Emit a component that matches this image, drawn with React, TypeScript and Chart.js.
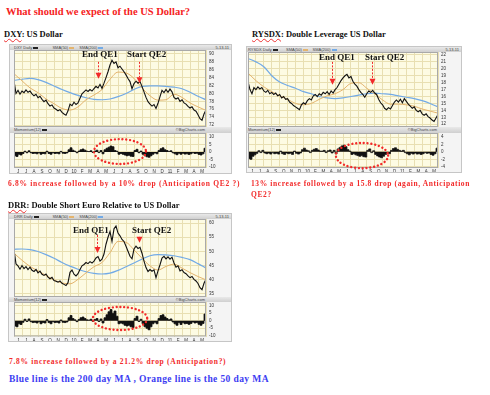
import React, { useEffect, useRef } from "react";
import { Chart, registerables } from "chart.js";
Chart.register(...registerables);

// ---------- shared ----------
const MONTH_LABELS = ["J","J","A","S","O","N","D","10","F","M","A","M","J","J","A","S","O","N","D","11","F","M","A","M"];
const WEEKS_PER_MONTH = 4;

// ---------- DXY ----------
const DXY_PRICE = [83.2,80.0,80.8,79.8,80.6,80.2,80.9,80.3,80.6,79.9, 79.4,79.8,78.9,79.3,78.5,77.9,78.3,77.4,76.8,77.1, 76.3,76.0,75.6,75.9,75.2,74.8,74.5,75.6,77.3,76.9, 77.8,77.2,77.6,78.8,79.9,80.4,80.9,80.5,81.0,80.6, 81.2,81.8,81.4,82.3,81.3,82.6,84.0,85.5,87.2,88.4, 87.6,88.0,86.5,86.9,86.2,85.5,84.7,83.8,83.0,81.2, 82.5,83.1,82.6,83.0,81.8,80.4,79.0,77.9,77.3,76.8, 77.2,76.2,77.5,79.2,80.8,80.2,81.0,80.3,81.1,80.4, 79.0,78.6,78.9,78.0,78.4,77.6,77.3,76.7,76.3,76.6, 75.8,75.5,74.6,73.6,73.2,74.8,75.8];
const DXY_SMA50 = [85.0,83.2,81.4,80.2,78.6,77.4,76.2,75.8,76.6,78.4,79.6,81.0,83.6,85.4,85.2,83.8,81.4,79.4,78.3,78.4,79.8,79.0,77.6,76.6,75.7];
const DXY_SMA200 = [83.3,83.6,83.8,83.5,82.8,81.9,81.0,80.2,79.5,78.9,78.5,78.4,78.6,79.2,80.0,81.0,81.8,81.9,81.9,81.8,81.6,81.2,80.3,79.3,78.4];
const DXY_MOMENTUM = [-2.5,-3,-1.5,-2,-1, 0.5,-0.5,0.8,-0.5,-1, -0.8,-1.2,-0.5,-1.5,-1, -1.2,0.5,-1,-1.5,-0.5, -1,-0.8,-1.2,0.4,-0.8, -1,-0.6,1.5,2.8,1.2, 0.5,-0.5,0.6,1.5,2, 1.2,0.5,0.3,0.8,-0.3, 0.6,1.2,-0.4,1,-1.2, 1.5,2.5,3.2,4,3.5, 1,0.5,-1.5,-1,-1.5, -2,-2.5,-2.2,-2.8,-3, 1,1.8,-0.5,0.6,-1.5, -2.5,-3.2,-3.5,-2.5,-1.5, -0.6,-1.2,1,2.2,2.8, 1.5,1,0.4,0.8,-0.5, -1.2,-1.8,-0.8,-1.5,-0.8, -1.4,-1.2,-1.6,-1.2,-0.5, -1,-0.8,-1.6,-2,-1.2, 2.5];
const DXY_PRICE_TICKS = [72,74,76,78,80,82,84,86,88,90];
const DXY_MOM_TICKS = [10,5,0,-5,-10];
const DXY_ARROWS = [[10.5, 88.0, 83.7], [15.6, 88.0, 82.6]];
const DXY_ELLIPSE = [13.25, 0.3, 3.25, 8.3];

// ---------- RYSDX ----------
const RYSDX_PRICE = [18.2,17.0,16.4,17.3,17.0,17.4,17.1,17.3,16.8,16.6, 16.9,16.4,16.6,16.3,16.5,16.1,16.3,15.8,16.0,15.6, 15.7,15.2,15.0,14.7,14.5,14.3,14.1,14.8,15.1,14.9, 15.4,15.7,15.5,16.1,16.3,16.0,16.4,16.2,16.6,16.4, 16.7,16.3,16.8,16.5,17.0,17.3,17.8,18.3,18.7,19.0, 19.2,18.7,18.9,18.2,17.8,17.5,17.0,16.6,16.3,15.9, 16.4,16.8,16.6,16.9,16.5,16.3,15.6,15.1,14.8,14.3, 14.1,14.4,14.2,14.7,15.2,15.5,15.2,15.6,15.1,15.7, 15.3,14.9,14.6,14.3,14.5,14.0,13.8,14.0,13.5,13.3, 13.5,13.1,12.9,12.6,12.4,12.9,13.4];
const RYSDX_SMA50 = [19.4,18.3,17.4,16.7,16.1,15.6,15.0,14.8,15.0,15.6,16.1,16.4,17.0,17.9,18.0,17.2,16.4,15.5,14.9,14.9,14.8,14.6,14.2,13.9,13.6];
const RYSDX_SMA200 = [21.5,21.0,20.3,19.0,18.1,17.6,17.2,16.7,16.4,16.0,15.8,15.7,15.8,16.0,16.2,16.4,16.5,16.4,16.3,16.1,15.9,15.7,15.4,15.0,14.5];
const RYSDX_MOMENTUM = [-1.8,-2,-1.2,-0.8,-0.4, 0.3,-0.2,0.4,-0.3,-0.5, -0.3,-0.6,-0.2,-0.5,-0.4, -0.6,0.2,-0.5,-0.7,-0.3, -0.5,-0.4,-0.7,0.2,-0.4, -0.6,-0.3,0.6,1.0,0.5, 0.3,-0.2,0.4,0.7,0.9, 0.5,0.2,0.2,0.4,-0.2, 0.3,0.5,-0.3,0.4,-0.5, 0.8,1.2,1.6,1.8,1.4, 0.6,0.2,-0.7,-0.5,-0.8, -1.0,-1.2,-1.0,-1.3,-1.4, 0.4,0.8,-0.2,0.3,-0.7, -1.1,-1.4,-1.6,-1.2,-0.7, -0.3,-0.5,0.4,0.9,1.1, 0.7,0.4,0.2,0.4,-0.2, -0.5,-0.8,-0.4,-0.6,-0.3, -0.6,-0.5,-0.7,-0.5,-0.2, -0.4,-0.3,-0.7,-0.9,-0.5, 1.0];
const RYSDX_PRICE_TICKS = [12,13,14,15,16,17,18,19,20,21,22];
const RYSDX_MOM_TICKS = [4,2,0,-2,-4];
const RYSDX_ARROWS = [[10.6, 21.0, 17.7], [15.65, 21.0, 17.7]];
const RYSDX_ELLIPSE = [14.4, -1.0, 3.3, 3.4];

// ---------- DRR ----------
const DRR_PRICE = [50.5,45.5,44.8,43.6,44.9,43.8,44.5,43.5,44.3,43.2, 42.8,43.5,42.3,42.9,41.8,41.4,41.9,40.8,40.2,40.7, 39.6,39.3,39.0,39.4,38.6,38.2,37.8,38.8,42.5,43.3, 41.8,41.2,42.0,43.5,44.8,45.3,46.0,45.6,46.3,45.8, 46.5,47.6,48.1,46.5,47.2,49.0,52.5,55.0,57.0,53.5, 58.0,59.0,56.5,55.5,54.2,53.5,51.8,50.0,48.2,47.3, 50.8,51.8,51.0,51.4,49.3,46.5,44.2,42.8,43.5,42.9, 43.4,40.6,43.0,45.2,47.6,48.2,47.3,48.0,47.2,47.9, 45.8,44.3,44.8,43.0,43.4,42.4,42.0,41.2,40.6,41.0, 40.0,39.4,38.5,37.0,36.3,38.6,40.0];
const DRR_SMA50 = [49.3,46.8,44.6,43.0,41.4,39.8,38.7,38.4,40.0,42.3,44.5,46.0,49.5,53.5,53.2,50.5,47.5,44.8,43.3,44.6,45.4,44.0,42.4,41.0,39.8];
const DRR_SMA200 = [50.7,50.8,50.6,49.9,48.8,47.5,46.0,44.7,43.6,42.7,42.1,41.9,42.2,43.2,44.5,45.8,47.2,48.4,48.8,48.7,48.4,47.8,47.0,45.6,44.0];
const DRR_MOMENTUM = [-3.5,-4,-2,-2.5,-1, 1,-0.5,1.2,-0.6,-1.2, -1,-1.5,-0.6,-2,-1.2, -1.5,0.8,-1.2,-2,-0.6, -1.2,-1,-1.5,0.5,-1, -1.2,-0.8,2,3.5,1.5, 0.6,-0.6,0.8,2,2.5, 1.5,0.6,0.4,1,-0.4, 0.8,1.5,-0.5,1.2,-1.5, 2,4,6,7.5,5, 6.5,3,-2,-1.5,-2, -3,-3.5,-3,-4,-4.5, 1.5,3,-0.5,1,-2, -4,-5,-6,-4,-2, -1,-2,1.5,3.5,4, 2.5,1.5,0.6,1.2,-0.8, -2,-3,-1.2,-2.5,-1.2, -2,-1.8,-2.4,-1.8,-0.8, -1.5,-1.2,-2.4,-3,-1.8, 4.5];
const DRR_PRICE_TICKS = [35,40,45,50,55,60];
const DRR_MOM_TICKS = [10,5,0,-5,-10];
const DRR_ARROWS = [[10.4, 55.8, 49.4], [15.6, 53.8, 53.0]];
const DRR_ELLIPSE = [13.25, 1.5, 3.4, 7.7];

// ---------- styles ----------
const PLOT_BG = "#fdfbe3";
const GRID = "#e8dfb2";
const PRICE_COLOR = "#111111";
const SMA50_COLOR = "#e4b46e";
const SMA200_COLOR = "#72aae6";
const RED = "#f22a2a";
const SERIF = "'Liberation Serif', 'Times New Roman', serif";
const SANS = "'Liberation Sans', Arial, sans-serif";

type PanelProps = {
  name: string;
  box: { left: number; top: number; width: number; height: number };
  plotL: number; plotR: number;
  priceTop: number; priceBottom: number;
  momTop: number; momBottom: number;
  priceMin: number; priceMax: number;
  momMin: number; momMax: number;
  price: number[]; sma50: number[]; sma200: number[]; momentum: number[];
  priceTicks: number[]; momTicks: number[];
  arrows: number[][]; ellipse: number[];
};

const monthTicks = () => [...MONTH_LABELS.map((_, i) => i), MONTH_LABELS.length];

const framePlugin = {
  id: "frame",
  beforeDraw(chart: any) {
    const { ctx, chartArea: a } = chart;
    ctx.save();
    ctx.fillStyle = PLOT_BG;
    ctx.fillRect(a.left, a.top, a.width, a.height);
    ctx.restore();
  },
  afterDatasetsDraw(chart: any) {
    const { ctx, chartArea: a } = chart;
    ctx.save();
    ctx.strokeStyle = "#a9a9a9";
    ctx.lineWidth = 1;
    ctx.strokeRect(a.left + 0.5, a.top + 0.5, a.width - 1, a.height - 1);
    ctx.restore();
  },
};

function Panel(p: PanelProps) {
  const priceRef = useRef<HTMLCanvasElement>(null);
  const momRef = useRef<HTMLCanvasElement>(null);
  const boxRight = p.box.left + p.box.width;
  const canvasL = p.box.left + 1;
  const canvasW = p.box.width - 2;
  const priceH = p.priceBottom - p.priceTop;
  const momCanvasH = p.box.top + p.box.height - 1 - p.momTop;
  const momPlotH = p.momBottom - p.momTop;

  useEffect(() => {
    const axisW = boxRight - 1 - p.plotR;
    const padL = p.plotL - canvasL;
    const xBase = {
      type: "linear" as const,
      min: 0,
      max: MONTH_LABELS.length,
      grid: { color: GRID, lineWidth: 1, drawTicks: false },
      border: { display: false },
      afterBuildTicks: (s: any) => { s.ticks = monthTicks().map((v) => ({ value: v })); },
    };
    const yBase = (min: number, max: number, ticks: number[]) => ({
      type: "linear" as const,
      position: "right" as const,
      min, max,
      grid: { color: GRID, lineWidth: 1, drawTicks: false },
      border: { display: false },
      ticks: { font: { size: 4.5, family: SANS }, color: "#333", padding: 3, autoSkip: false },
      afterBuildTicks: (s: any) => { s.ticks = ticks.map((v) => ({ value: v })); },
      afterFit: (s: any) => { s.width = axisW; s.paddingTop = 0; s.paddingBottom = 0; },
    });

    const arrowPlugin = {
      id: "arrows",
      afterDraw(chart: any) {
        const { ctx, scales } = chart;
        ctx.save();
        for (const [m, topV, tipV] of p.arrows) {
          const px = Math.round(scales.x.getPixelForValue(m)) + 0.5;
          const y0 = scales.y.getPixelForValue(topV);
          const y1 = scales.y.getPixelForValue(tipV);
          const head = 6;
          ctx.strokeStyle = RED;
          ctx.lineWidth = 1;
          ctx.setLineDash([2, 1.5]);
          ctx.beginPath();
          ctx.moveTo(px, y0);
          ctx.lineTo(px, y1 - head);
          ctx.stroke();
          ctx.setLineDash([]);
          ctx.fillStyle = RED;
          ctx.beginPath();
          ctx.moveTo(px - 3, y1 - head);
          ctx.lineTo(px + 3, y1 - head);
          ctx.lineTo(px, y1);
          ctx.closePath();
          ctx.fill();
        }
        ctx.restore();
      },
    };

    const ellipsePlugin = {
      id: "ellipse",
      afterDraw(chart: any) {
        const { ctx, scales } = chart;
        const [cx, cy, rx, ry] = p.ellipse;
        const px = scales.x.getPixelForValue(cx);
        const py = scales.y.getPixelForValue(cy);
        const prx = scales.x.getPixelForValue(cx + rx) - px;
        const pry = py - scales.y.getPixelForValue(cy + ry);
        ctx.save();
        ctx.strokeStyle = RED;
        ctx.lineWidth = 2.4;
        ctx.lineCap = "round";
        ctx.setLineDash([0.01, 3.8]);
        ctx.beginPath();
        ctx.ellipse(px, py, prx, pry, 0, 0, Math.PI * 2);
        ctx.stroke();
        ctx.restore();
      },
    };

    const priceChart = new Chart(priceRef.current!, {
      type: "line",
      data: {
        datasets: [
          { data: p.price.map((v, i) => ({ x: i / WEEKS_PER_MONTH, y: v })), borderColor: PRICE_COLOR, borderWidth: 1.1, pointRadius: 0, tension: 0 },
          { data: p.sma50.map((v, i) => ({ x: i, y: v })), borderColor: SMA50_COLOR, borderWidth: 1, pointRadius: 0, cubicInterpolationMode: "monotone" },
          { data: p.sma200.map((v, i) => ({ x: i, y: v })), borderColor: SMA200_COLOR, borderWidth: 1.2, pointRadius: 0, cubicInterpolationMode: "monotone" },
        ],
      },
      options: {
        responsive: false,
        animation: false,
        devicePixelRatio: 1,
        events: [],
        layout: { padding: { left: padL, right: 0, top: 0, bottom: 0 } },
        plugins: { legend: { display: false }, tooltip: { enabled: false } },
        scales: {
          x: { ...xBase, ticks: { display: false }, afterFit: (s: any) => { s.height = 0; s.paddingLeft = 0; s.paddingRight = 0; } },
          y: yBase(p.priceMin, p.priceMax, p.priceTicks),
        },
      } as any,
      plugins: [framePlugin, arrowPlugin],
    });

    const momChart = new Chart(momRef.current!, {
      type: "line",
      data: {
        datasets: [
          {
            data: p.momentum.map((v, i) => ({ x: (i + 0.5) / WEEKS_PER_MONTH, y: v })),
            borderColor: "#111", backgroundColor: "#111", borderWidth: 0.8,
            pointRadius: 0, fill: "origin", stepped: "middle",
          },
        ],
      },
      options: {
        responsive: false,
        animation: false,
        devicePixelRatio: 1,
        events: [],
        layout: { padding: { left: padL, right: 0, top: 0, bottom: 0 } },
        plugins: { legend: { display: false }, tooltip: { enabled: false } },
        scales: {
          x: {
            ...xBase,
            ticks: {
              font: { size: 4.5, family: SANS }, color: "#333", padding: 1.5,
              autoSkip: false, maxRotation: 0, minRotation: 0, labelOffset: 4,
              callback: (_v: any, i: number) => MONTH_LABELS[i] ?? "",
            },
            afterFit: (s: any) => { s.height = momCanvasH - momPlotH; s.paddingLeft = 0; s.paddingRight = 0; },
          },
          y: yBase(p.momMin, p.momMax, p.momTicks),
        },
      } as any,
      plugins: [framePlugin, ellipsePlugin],
    });

    return () => { priceChart.destroy(); momChart.destroy(); };
  }, []);

  const strip = (top: number, height: number) => ({
    position: "absolute" as const, left: canvasL, top, width: canvasW, height,
    background: "linear-gradient(#e9e9e9, #cfcfcf)",
  });
  const tiny = { position: "absolute" as const, fontFamily: SANS, fontSize: 4, lineHeight: "5px", color: "#444", whiteSpace: "nowrap" as const };
  const dash = (c: string) => <span style={{ display: "inline-block", width: 5, height: 1.5, background: c, verticalAlign: "middle", marginLeft: 1 }} />;

  return (
    <>
      <div style={{ position: "absolute", left: p.box.left, top: p.box.top, width: p.box.width, height: p.box.height, background: "#f4f4f4", border: "1px solid #c6c6c6", boxSizing: "border-box" }} />
      <div style={strip(p.box.top + 1, p.priceTop - p.box.top - 1)}>
        <span style={{ ...tiny, left: p.plotL - canvasL, top: 0 }}>{p.name} Daily{dash("#222")}</span>
        <span style={{ ...tiny, left: (p.plotR - p.plotL) * 0.2 + p.plotL - canvasL, top: 0 }}>SMA(50){dash(SMA50_COLOR)}</span>
        <span style={{ ...tiny, left: (p.plotR - p.plotL) * 0.34 + p.plotL - canvasL, top: 0 }}>SMA(200){dash(SMA200_COLOR)}</span>
        <span style={{ ...tiny, right: 2, top: 0 }}>5-13-11</span>
      </div>
      <canvas ref={priceRef} width={canvasW} height={priceH} style={{ position: "absolute", left: canvasL, top: p.priceTop, width: canvasW, height: priceH }} />
      <div style={strip(p.priceBottom, p.momTop - p.priceBottom)}>
        <span style={{ ...tiny, left: p.plotL - canvasL, top: 0 }}>Momentum(12){dash("#222")}</span>
        <span style={{ ...tiny, right: boxRight - p.plotR, top: 0 }}>©BigCharts.com</span>
      </div>
      <canvas ref={momRef} width={canvasW} height={momCanvasH} style={{ position: "absolute", left: canvasL, top: p.momTop, width: canvasW, height: momCanvasH }} />
    </>
  );
}

const txt = (left: number, top: number, size: number, color: string, extra: any = {}) => ({
  position: "absolute" as const, left, top, fontFamily: SERIF, fontWeight: 700, fontSize: size,
  lineHeight: 1, color, whiteSpace: "nowrap" as const, ...extra,
});
const squiggle = { textDecoration: "underline wavy #e33", textDecorationThickness: "0.5px", textUnderlineOffset: "1px" };

export default function App() {
  return (
    <div style={{ position: "absolute", left: 0, top: 0, width: 490, height: 395, background: "#fff", overflow: "hidden" }}>
      <div style={txt(6, 7.3, 10.5, "#f52222")}>What should we expect of the US Dollar?</div>
      <div style={txt(4, 30, 8.5, "#111")}><span style={squiggle}>DXY</span>: US Dollar</div>
      <div style={txt(252, 29.5, 8.5, "#111")}><span style={squiggle}>RYSDX</span>: Double Leverage US Dollar</div>

      <Panel name="DXY" box={{ left: 9, top: 44, width: 223, height: 130 }} plotL={14} plotR={206}
        priceTop={50} priceBottom={127} momTop={133} momBottom={168}
        priceMin={71.5} priceMax={91} momMin={-10.7} momMax={12.7}
        price={DXY_PRICE} sma50={DXY_SMA50} sma200={DXY_SMA200} momentum={DXY_MOMENTUM}
        priceTicks={DXY_PRICE_TICKS} momTicks={DXY_MOM_TICKS} arrows={DXY_ARROWS} ellipse={DXY_ELLIPSE} />
      <Panel name="RYSDX" box={{ left: 246, top: 46, width: 216, height: 127 }} plotL={248} plotR={438}
        priceTop={52} priceBottom={127} momTop={133} momBottom={168}
        priceMin={11.6} priceMax={22.43} momMin={-4.35} momMax={5.08}
        price={RYSDX_PRICE} sma50={RYSDX_SMA50} sma200={RYSDX_SMA200} momentum={RYSDX_MOMENTUM}
        priceTicks={RYSDX_PRICE_TICKS} momTicks={RYSDX_MOM_TICKS} arrows={RYSDX_ARROWS} ellipse={RYSDX_ELLIPSE} />
      <Panel name="DRR" box={{ left: 8, top: 213, width: 224, height: 129 }} plotL={14} plotR={206}
        priceTop={219} priceBottom={297} momTop={302} momBottom={336.5}
        priceMin={33.7} priceMax={61.5} momMin={-10.5} momMax={12.5}
        price={DRR_PRICE} sma50={DRR_SMA50} sma200={DRR_SMA200} momentum={DRR_MOMENTUM}
        priceTicks={DRR_PRICE_TICKS} momTicks={DRR_MOM_TICKS} arrows={DRR_ARROWS} ellipse={DRR_ELLIPSE} />

      <div style={txt(82, 50.3, 9, "#111")}>End QE1</div>
      <div style={txt(127, 50.3, 9, "#111")}>Start QE2</div>
      <div style={txt(319, 53, 9, "#111")}>End QE1</div>
      <div style={txt(365, 53, 9, "#111")}>Start QE2</div>
      <div style={txt(73, 226, 9, "#111")}>End QE1</div>
      <div style={txt(132, 226, 9, "#111")}>Start QE2</div>

      <div style={txt(8, 180, 7.5, "#f22a2a", { letterSpacing: 0.7 })}>6.8% increase followed by a 10% drop (Anticipation QE2 ?)</div>
      <div style={txt(251, 180, 7.5, "#f22a2a", { letterSpacing: 0.6 })}>13% increase followed by a 15.8 drop (again, Anticipation</div>
      <div style={txt(251, 191, 7.5, "#f22a2a", { letterSpacing: 0.6 })}>QE2?</div>
      <div style={txt(8, 201, 8.5, "#111")}><span style={squiggle}>DRR</span>: Double Short Euro Relative to US Dollar</div>
      <div style={txt(9, 357.5, 7.5, "#f22a2a", { letterSpacing: 0.7 })}>7.8% increase followed by a 21.2%  drop (Anticipation?)</div>
      <div style={txt(9, 375.2, 9.5, "#3c3cf2", { letterSpacing: 0.4 })}>Blue line is the 200 day MA , Orange line is the 50 day MA</div>
    </div>
  );
}
